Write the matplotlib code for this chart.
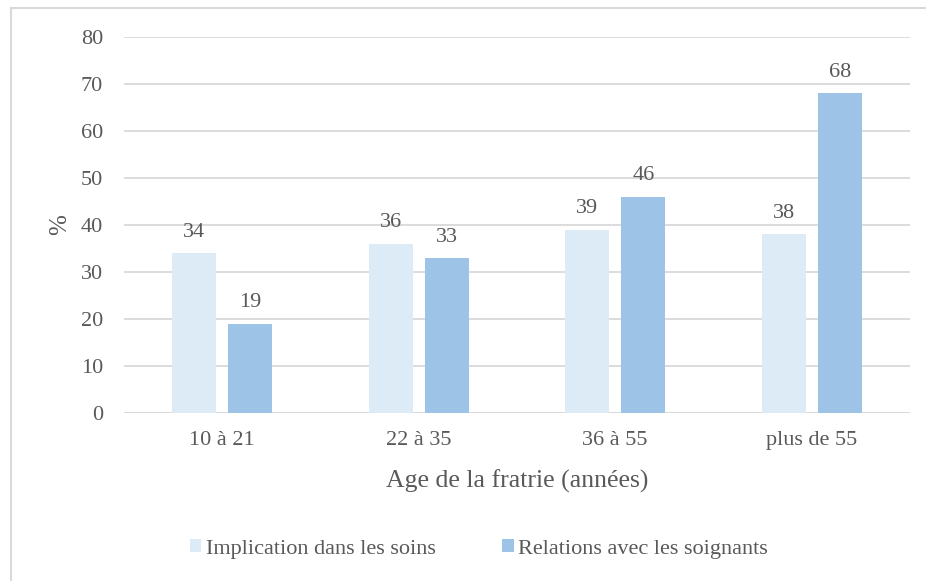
import matplotlib.pyplot as plt
import numpy as np

plt.rcParams['font.family'] = ['Liberation Serif', 'DejaVu Serif']

categories = ['10 à 21', '22 à 35', '36 à 55', 'plus de 55']
implication = [34, 36, 39, 38]
relations = [19, 33, 46, 68]
series_names = ['Implication dans les soins', 'Relations avec les soignants']

txt = '#595959'
c_light = '#DDEBF7'
c_dark = '#9DC3E6'

fig = plt.figure(figsize=(9.26, 5.81), dpi=100)
ax = fig.add_axes([124 / 926, 1 - 413 / 581, 786 / 926, 376 / 581])

x = np.arange(len(categories))
w = 0.225
off = 0.143
b1 = ax.bar(x - off, implication, w, color=c_light, label=series_names[0], zorder=2)
b2 = ax.bar(x + off, relations, w, color=c_dark, label=series_names[1], zorder=2)

for bars, vals in ((b1, implication), (b2, relations)):
    for r, v in zip(bars, vals):
        ax.annotate(str(v), (r.get_x() + r.get_width() / 2, v), xytext=(0, 15),
                    textcoords='offset points', ha='center', va='center',
                    fontsize=16, color=txt)

ax.set_xlim(-0.5, len(categories) - 0.5)
ax.set_ylim(0, 80)
ax.set_yticks(range(0, 81, 10))
ax.yaxis.grid(True, color='#D9D9D9', lw=1.3, zorder=0)
ax.set_axisbelow(True)
for s in ax.spines.values():
    s.set_visible(False)
ax.axhline(0, color='#D9D9D9', lw=1.3, zorder=1)
ax.tick_params(length=0, labelsize=16, labelcolor=txt)
ax.tick_params(axis='y', pad=15)
ax.tick_params(axis='x', pad=13)
ax.set_xticks(x)
ax.set_xticklabels(categories)
ax.set_xlabel('Age de la fratrie (années)', fontsize=18.5, color=txt, labelpad=14)
ax.set_ylabel('%', fontsize=18, color=txt, labelpad=7)

fig.legend(loc='center', bbox_to_anchor=(479 / 926, 1 - 549 / 581), ncol=2, frameon=False,
           fontsize=16, labelcolor=txt, handlelength=0.5, handleheight=0.5,
           handletextpad=0.2, columnspacing=3.0)

# outer chart frame (left and top edges visible in the crop)
fig.add_artist(plt.Line2D([10.5 / 926, 10.5 / 926], [0, 1 - 8 / 581], color='#D9D9D9', lw=1.5))
fig.add_artist(plt.Line2D([10.5 / 926, 1], [1 - 8 / 581, 1 - 8 / 581], color='#D9D9D9', lw=1.5))

fig.savefig('out.png', dpi=100)
